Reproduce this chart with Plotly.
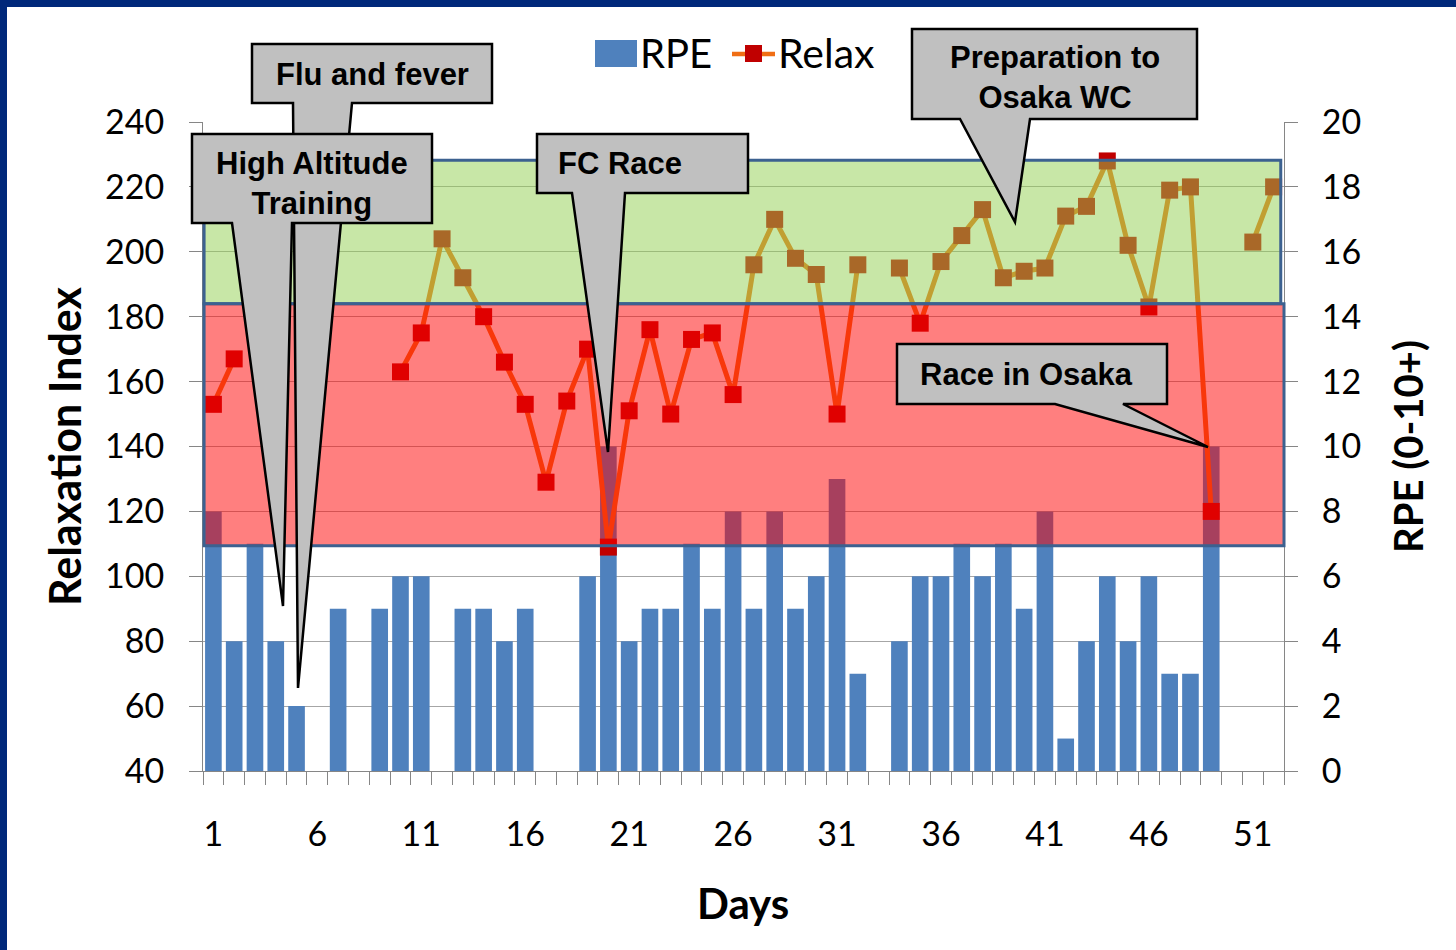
import plotly.graph_objects as go

# ---- data -------------------------------------------------------------
days = list(range(1, 53))

rpe = [8, 4, 7, 4, 2, None, 5, None, 5, 6,
       6, None, 5, 5, 4, 5, None, None, 6, 10,
       4, 5, 5, 7, 5, 8, 5, 8, 5, 6,
       9, 3, None, 4, 6, 6, 7, 6, 7, 5,
       8, 1, 4, 6, 4, 6, 3, 3, 10, None,
       None, None]

relax = [153, 167, None, None, None, None, None, None, None, 163,
         175, 204, 192, 180, 166, 153, 129, 154, 170, 109,
         151, 176, 150, 173, 175, 156, 196, 210, 198, 193,
         150, 196, None, 195, 178, 197, 205, 213, 192, 194,
         195, 211, 214, 228, 202, 183, 219, 220, 120, None,
         203, 220]

x_tick_days = [1, 6, 11, 16, 21, 26, 31, 36, 41, 46, 51]
left_ticks = list(range(40, 241, 20))
right_ticks = list(range(0, 21, 2))

# relaxation index bands: good zone and poor zone
good_band = [184, 228.2]
poor_band = [109.4, 184]

callouts = ["Flu and fever", "High Altitude<br>Training", "FC Race",
            "Preparation to<br>Osaka WC", "Race in Osaka"]

# ---- page geometry ----------------------------------------------------
W, H = 1456, 950
PL, PR, PT, PB = 203, 1284, 122, 771


def px(x):
    return (x - PL) / (PR - PL)


def py(y):
    return (PB - y) / (PB - PT)


TICK_FONT = dict(family="Lato, Noto Sans, sans-serif", size=34, color="#000000")
TITLE_FONT = dict(family="Lato, Noto Sans, sans-serif", size=40, color="#000000")
CALLOUT_FONT = dict(family="Liberation Sans, Arial, sans-serif", size=31, color="#000000")

fig = go.Figure()

fig.add_trace(go.Bar(
    x=days, y=rpe, yaxis="y2", name="RPE",
    marker=dict(color="#4F81BD", line=dict(width=0)),
    width=0.8, showlegend=False,
))

fig.add_trace(go.Scatter(
    x=days, y=relax, yaxis="y", name="Relax", mode="lines+markers",
    line=dict(color="#F06E14", width=5),
    marker=dict(symbol="square", size=17, color="#C00000"),
    connectgaps=False, showlegend=False,
))

shapes = []

# translucent zone overlays drawn over the data
shapes.append(dict(type="rect", xref="paper", yref="y", x0=0.001, x1=0.997,
                   y0=good_band[0], y1=good_band[1], layer="above",
                   fillcolor="rgba(146,208,80,0.5)",
                   line=dict(color="#3C6190", width=3)))
shapes.append(dict(type="rect", xref="paper", yref="y", x0=0.001, x1=1.0,
                   y0=poor_band[0], y1=poor_band[1], layer="above",
                   fillcolor="rgba(255,0,0,0.5)",
                   line=dict(color="#3C6190", width=3)))


def callout_path(box, tail_l, tail_r, tip):
    l, t, r, b = box
    pts = [(l, t), (r, t), (r, b), (tail_r, b), tip, (tail_l, b), (l, b)]
    s = "M " + " L ".join(f"{px(a):.5f},{py(c):.5f}" for a, c in pts) + " Z"
    return s


callout_geo = [
    # box (l, t, r, b), tail left x, tail right x, tip, text centre
    ((252, 44, 492, 103), 293, 352, (298, 688), (372, 74)),
    ((192, 134, 432, 223), 232, 292, (283, 606), (312, 183)),
    ((537, 134, 748, 193), 572, 625, (608, 452), (620, 164)),
    ((912, 29, 1197, 119), 960, 1030, (1015, 222), (1055, 78)),
    ((897, 344, 1167, 404), 1055, 1123, (1208, 447), (1026, 374)),
]

annotations = []
for (box, tl, tr, tip, (cx, cy)), txt in zip(callout_geo, callouts):
    shapes.append(dict(type="path", xref="paper", yref="paper",
                       path=callout_path(box, tl, tr, tip), layer="above",
                       fillcolor="#C0C0C0", line=dict(color="#000000", width=2.5)))
    annotations.append(dict(xref="paper", yref="paper", x=px(cx), y=py(cy),
                            text="<b>" + txt + "</b>", showarrow=False,
                            font=CALLOUT_FONT, xanchor="center", yanchor="middle",
                            align="center"))

# legend drawn by hand (large swatches)
shapes.append(dict(type="rect", xref="paper", yref="paper",
                   x0=px(595), x1=px(637), y0=py(67), y1=py(40),
                   fillcolor="#4F81BD", line=dict(width=0), layer="above"))
shapes.append(dict(type="line", xref="paper", yref="paper",
                   x0=px(732), x1=px(775), y0=py(54), y1=py(54),
                   line=dict(color="#F06E14", width=4.5), layer="above"))
shapes.append(dict(type="rect", xref="paper", yref="paper",
                   x0=px(745), x1=px(762), y0=py(62), y1=py(45),
                   fillcolor="#C00000", line=dict(width=0), layer="above"))
annotations.append(dict(xref="paper", yref="paper", x=px(638), y=py(53),
                        text="RPE", showarrow=False, xanchor="left", yanchor="middle",
                        font=dict(family="Lato, sans-serif", size=40, color="#000")))
annotations.append(dict(xref="paper", yref="paper", x=px(776), y=py(53),
                        text="Relax", showarrow=False, xanchor="left", yanchor="middle",
                        font=dict(family="Lato, sans-serif", size=41, color="#000")))

# axis titles
annotations.append(dict(xref="paper", yref="paper", x=px(64), y=py(447),
                        text="<b>Relaxation Index</b>", textangle=-90, showarrow=False,
                        xanchor="center", yanchor="middle",
                        font=dict(TITLE_FONT, size=43)))
annotations.append(dict(xref="paper", yref="paper", x=px(1408), y=py(447),
                        text="<b>RPE (0-10+)</b>", textangle=-90, showarrow=False,
                        xanchor="center", yanchor="middle", font=TITLE_FONT))
annotations.append(dict(xref="paper", yref="paper", x=px(743), y=py(903),
                        text="<b>Days</b>", showarrow=False,
                        xanchor="center", yanchor="middle",
                        font=dict(TITLE_FONT, size=42)))

# navy frame along the top and left edges
shapes.append(dict(type="rect", xref="paper", yref="paper",
                   x0=px(0), x1=px(W), y0=py(7), y1=py(0),
                   fillcolor="#00287A", line=dict(width=0), layer="above"))
shapes.append(dict(type="rect", xref="paper", yref="paper",
                   x0=px(0), x1=px(7), y0=py(H), y1=py(0),
                   fillcolor="#00287A", line=dict(width=0), layer="above"))

fig.update_layout(
    width=W, height=H,
    margin=dict(l=PL, r=W - PR, t=PT, b=H - PB, autoexpand=False),
    paper_bgcolor="#FFFFFF", plot_bgcolor="#FFFFFF",
    showlegend=False, bargap=0.2,
    shapes=shapes, annotations=annotations,
    xaxis=dict(
        range=[0.5, 52.5], tickmode="array", tickvals=x_tick_days,
        ticktext=[str(d) for d in x_tick_days], ticks="",
        tickfont=TICK_FONT, ticklabelstandoff=33,
        showgrid=False, zeroline=False,
        showline=True, linecolor="#868686", linewidth=1,
        minor=dict(tick0=0.5, dtick=1, ticks="outside", ticklen=13,
                   tickcolor="#868686", tickwidth=1, showgrid=False),
    ),
    yaxis=dict(
        range=[40, 240], tickvals=left_ticks, side="left", overlaying="y2",
        ticks="outside", ticklen=13, tickcolor="#868686", tickfont=TICK_FONT,
        ticklabelstandoff=18,
        showgrid=True, gridcolor="#A6A6A6", gridwidth=1, zeroline=False,
        showline=True, linecolor="#868686", linewidth=1,
    ),
    yaxis2=dict(
        range=[0, 20], tickvals=right_ticks, side="right", anchor="x",
        ticks="outside", ticklen=13, tickcolor="#868686", tickfont=TICK_FONT,
        ticklabelstandoff=17,
        showgrid=False, zeroline=False,
        showline=True, linecolor="#868686", linewidth=1,
    ),
)

fig.write_html("out.html")
